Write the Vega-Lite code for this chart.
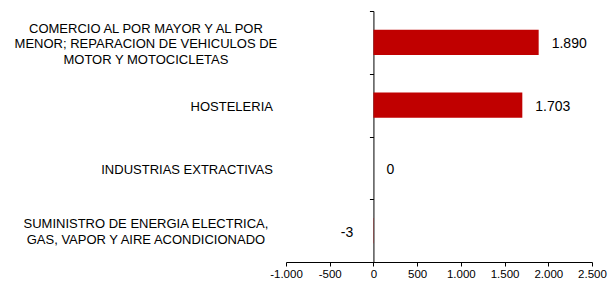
{
  "$schema": "https://vega.github.io/schema/vega-lite/v6.json",
  "autosize": "none",
  "width": 306,
  "height": 251,
  "padding": {"left": 286, "top": 11, "right": 17, "bottom": 27},
  "background": "white",
  "config": {
    "view": {"stroke": null},
    "font": "Liberation Sans",
    "locale": {"number": {"decimal": ",", "thousands": ".", "grouping": [3], "currency": ["", " €"], "minus": "-"}}
  },
  "data": {
    "values": [
      {"sector": "COMERCIO AL POR MAYOR Y AL POR|MENOR; REPARACION DE VEHICULOS DE|MOTOR Y MOTOCICLETAS", "value": 1890},
      {"sector": "HOSTELERIA", "value": 1703},
      {"sector": "INDUSTRIAS EXTRACTIVAS", "value": 0},
      {"sector": "SUMINISTRO DE ENERGIA ELECTRICA,|GAS, VAPOR Y AIRE ACONDICIONADO", "value": -3}
    ]
  },
  "encoding": {
    "y": {
      "field": "sector",
      "type": "nominal",
      "sort": null,
      "scale": {"paddingInner": 0.6, "paddingOuter": 0.3},
      "axis": {
        "title": null,
        "domain": true,
        "domainColor": "black",
        "domainWidth": 1,
        "ticks": true,
        "tickColor": "black",
        "tickSize": 4,
        "tickOffset": -31.375,
        "offset": -87.43,
        "labelOffset": {
          "condition": [
            {"test": "length(split(datum.value, '|')) == 3", "value": 17.1},
            {"test": "length(split(datum.value, '|')) == 2", "value": 24}
          ],
          "value": 32.9
        },
        "labelPadding": {
          "condition": {"test": "indexof(datum.value, '|') >= 0", "value": 224},
          "value": 97
        },
        "labelAlign": {
          "condition": {"test": "indexof(datum.value, '|') >= 0", "value": "center"},
          "value": "right"
        },
        "labelBaseline": "middle",
        "labelFontSize": 13,
        "labelColor": "black",
        "labelLimit": 0,
        "labelLineHeight": 15.75,
        "labelExpr": "split(datum.label, '|')"
      }
    }
  },
  "layer": [
    {
      "mark": {"type": "bar", "color": "#C00000"},
      "encoding": {
        "x": {
          "field": "value",
          "type": "quantitative",
          "scale": {"domain": [-1000, 2500], "nice": false},
          "axis": {
            "title": null,
            "grid": false,
            "values": [-1000, -500, 0, 500, 1000, 1500, 2000, 2500],
            "labelExpr": "format(datum.value, ',')",
            "labelFontSize": 11.5,
            "labelColor": "black",
            "labelFlush": false,
            "labelOverlap": false,
            "domainColor": "black",
            "tickColor": "black",
            "tickSize": 4,
            "labelPadding": 2
          }
        }
      }
    },
    {
      "transform": [{"filter": "datum.value >= 0"}],
      "mark": {"type": "text", "align": "left", "baseline": "middle", "dx": 13, "dy": 2, "fontSize": 14, "color": "black"},
      "encoding": {
        "x": {"field": "value", "type": "quantitative"},
        "text": {"field": "value", "type": "quantitative", "format": ","}
      }
    },
    {
      "transform": [{"filter": "datum.value < 0"}],
      "mark": {"type": "text", "align": "right", "baseline": "middle", "dx": -20, "dy": 2, "fontSize": 14, "color": "black"},
      "encoding": {
        "x": {"field": "value", "type": "quantitative"},
        "text": {"field": "value", "type": "quantitative", "format": ","}
      }
    }
  ]
}
